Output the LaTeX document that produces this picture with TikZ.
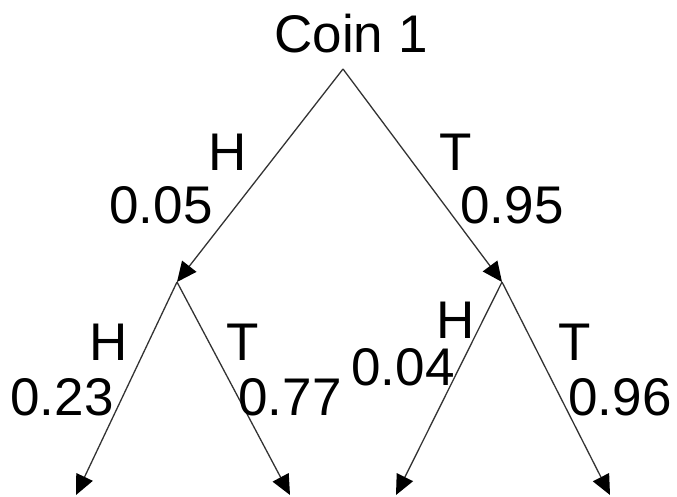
\documentclass[tikz,border=0pt]{standalone}
\usepackage{fontspec}
\setmainfont{Liberation Sans}
\usetikzlibrary{positioning,arrows.meta,calc}

\begin{document}
\begin{tikzpicture}[
  x=1pt,y=-1pt,
  font=\fontsize{53}{60}\selectfont,
  lbl/.style={inner sep=0pt,text=black},
  ar/.style={-{Triangle[length=20pt,width=18pt,color=black]},draw=black!80,line width=1.3pt},
]
\useasboundingbox (0,0) rectangle (677,497);
% tree points
\coordinate (root) at (343,69);
\coordinate (h) at (177,282);
\coordinate (t) at (502,282);
\coordinate (hh) at (76,495);
\coordinate (ht) at (290,495);
\coordinate (th) at (396,495);
\coordinate (tt) at (610,495);

\node[lbl] (coin) at (351,34) {Coin 1};

\draw[ar] (root) -- (h);
\draw[ar] (root) -- (t);
\draw[ar] (h) -- (hh); \draw[ar] (h) -- (ht);
\draw[ar] (t) -- (th); \draw[ar] (t) -- (tt);

% first toss
\node[lbl] (hlab) at (228,152) {H};
\node[lbl] (hp) at (161,205) {0.05};
\node[lbl] (tlab) at (456,152) {T};
\node[lbl] (tp) at (512,205) {0.95};

% second toss
\node[lbl] (hhlab) at (109,342) {H};
\node[lbl] (hhp) at (62,397) {0.23};
\node[lbl] (htlab) at (243,342) {T};
\node[lbl] (htp) at (290,397) {0.77};
\node[lbl] (thlab) at (456,320) {H};
\node[lbl] (thp) at (403,367) {0.04};
\node[lbl] (ttlab) at (575,342) {T};
\node[lbl] (ttp) at (620,397) {0.96};
\end{tikzpicture}
\end{document}
